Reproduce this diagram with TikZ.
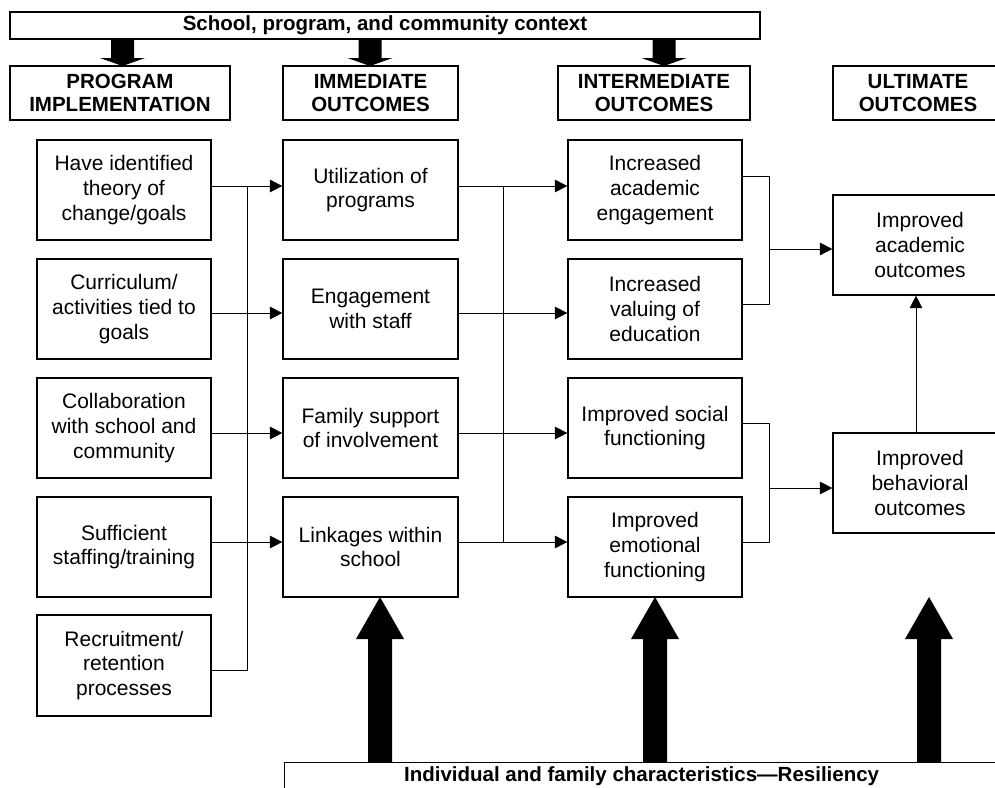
\documentclass[tikz,border=0pt]{standalone}
\usepackage{fontspec}
\setmainfont{Liberation Sans}
\usetikzlibrary{arrows.meta, calc}

\begin{document}
\begin{tikzpicture}[x=1pt,y=1pt,yscale=-1,xscale=1,
  box/.style={draw, line width=1.2pt, minimum width=174, minimum height=100, inner sep=0pt, align=center, font=\fontsize{21}{24.7}\selectfont},
  hdr/.style={draw, line width=1.2pt, minimum height=54, inner sep=0pt, align=center, font=\bfseries\fontsize{20.5}{23}\selectfont},
  band/.style={draw, line width=1.2pt, inner sep=0pt, align=center, font=\bfseries\fontsize{20.5}{23}\selectfont},
  link/.style={line width=1pt},
  arr/.style={line width=1pt, -{Triangle[length=12.5pt,width=12.5pt]}}]
\useasboundingbox (0,0) rectangle (995,787);
\fill[white] (0,0) rectangle (995,787);
\clip (0,0) rectangle (995,787);

%Context band
\node[band, minimum width=750, minimum height=27] (ctx) at (385,25.5) {School, program, and community context};
%Headers
\node[hdr, minimum width=220] (hp) at (120,93) {PROGRAM\\IMPLEMENTATION};
\node[hdr, minimum width=175] (hi) at (370.5,93) {IMMEDIATE\\OUTCOMES};
\node[hdr, minimum width=192] (hm) at (654,93) {INTERMEDIATE\\OUTCOMES};
\node[hdr, minimum width=170] (hu) at (918,93) {ULTIMATE\\OUTCOMES};

%Program implementation
\node[box] (pa) at (124,190) {Have identified\\theory of\\change/goals};
\node[box] (pb) at (124,309) {Curriculum/\\activities tied to\\goals};
\node[box] (pc) at (124,428) {Collaboration\\with school and\\community};
\node[box] (pd) at (124,547) {Sufficient\\staffing/training};
\node[box, minimum height=101] (pe) at (124,665.5) {Recruitment/\\retention\\processes};
%Immediate outcomes
\node[box, minimum width=175] (ia) at (370.5,190) {Utilization of\\programs};
\node[box, minimum width=175] (ib) at (370.5,309) {Engagement\\with staff};
\node[box, minimum width=175] (ic) at (370.5,428) {Family support\\of involvement};
\node[box, minimum width=175] (id) at (370.5,547) {Linkages within\\school};
%Intermediate outcomes
\node[box] (ma) at (655,190) {Increased\\academic\\engagement};
\node[box] (mb) at (655,309) {Increased\\valuing of\\education};
\node[box] (mc) at (655,428) {Improved social\\functioning};
\node[box] (md) at (655,547) {Improved\\emotional\\functioning};
%Ultimate outcomes
\node[box] (ua) at (920,245) {Improved\\academic\\outcomes};
\node[box] (ub) at (920,483) {Improved\\behavioral\\outcomes};

%Resiliency band
\node[band, anchor=north west, minimum width=714, minimum height=27] (res) at (284,762) {Individual and family characteristics---Resiliency};

%Junctions
\coordinate (jp1) at (247,186);
\coordinate (jm1) at (503,186);
\coordinate (jm4) at (503,542);
\coordinate (ja) at (769,249);
\coordinate (jb) at (769,488);

%Program -> immediate
\foreach \r/\dy in {a/-4,b/4,c/5,d/-5}
  \draw[arr] ($(p\r.east)+(0,\dy)$) -- ($(i\r.west)+(0,\dy)$);
\draw[link] ($(pe.east)+(0,4.5)$) -| (jp1);
%Immediate -> intermediate
\foreach \r/\dy in {a/-4,b/4,c/5,d/-5}
  \draw[arr] ($(i\r.east)+(0,\dy)$) -- ($(m\r.west)+(0,\dy)$);
\draw[link] (jm1) -- (jm4);
%Intermediate -> ultimate
\draw[link] ($(ma.east)+(0,-14)$) -| (ja) |- ($(mb.east)+(0,-5)$);
\draw[arr] (ja) -- ($(ua.west)+(0,4)$);
\draw[link] ($(mc.east)+(0,-5)$) -| (jb) |- ($(md.east)+(0,-5)$);
\draw[arr] (jb) -- ($(ub.west)+(0,5)$);
\draw[arr] ($(ub.north)+(-4,0)$) -- ($(ua.south)+(-4,0)$);

%Block arrows: context down
\foreach \cx in {122.5,370,664}
  \fill (\cx-11.5,39) -- (\cx+11.5,39) -- (\cx+11.5,58) -- (\cx+22.5,58) -- (\cx,66) -- (\cx-22.5,58) -- (\cx-11.5,58) -- cycle;
%Block arrows: resiliency up
\foreach \cx in {380,655,929}
  \fill (\cx-12,762) -- (\cx+12,762) -- (\cx+12,639) -- (\cx+24,639) -- (\cx,597) -- (\cx-24,639) -- (\cx-12,639) -- cycle;

\end{tikzpicture}
\end{document}
